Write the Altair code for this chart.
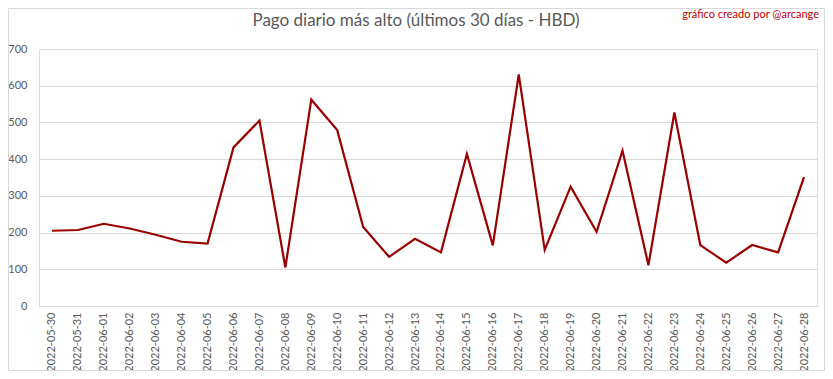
import altair as alt
import pandas as pd

dates = ["2022-05-30", "2022-05-31", "2022-06-01", "2022-06-02", "2022-06-03",
         "2022-06-04", "2022-06-05", "2022-06-06", "2022-06-07", "2022-06-08",
         "2022-06-09", "2022-06-10", "2022-06-11", "2022-06-12", "2022-06-13",
         "2022-06-14", "2022-06-15", "2022-06-16", "2022-06-17", "2022-06-18",
         "2022-06-19", "2022-06-20", "2022-06-21", "2022-06-22", "2022-06-23",
         "2022-06-24", "2022-06-25", "2022-06-26", "2022-06-27", "2022-06-28"]
values = [205, 207, 224, 211, 194, 175, 170, 432, 505, 105,
          562, 479, 215, 134, 183, 146, 414, 165, 631, 153,
          325, 202, 423, 111, 527, 166, 118, 166, 146, 351]
y_ticks = [0, 100, 200, 300, 400, 500, 600, 700]
title_text = "Pago diario más alto (últimos 30 días - HBD)"
credit_text = "gráfico creado por @arcange"

df = pd.DataFrame({"fecha": dates, "valor": values})

FONT = "Lato"
GRAY = "#595959"

line = alt.Chart(df).mark_line(color="#990000", strokeWidth=2.2).encode(
    x=alt.X("fecha:O", sort=dates, title=None,
            scale=alt.Scale(type="point", padding=0.5),
            axis=alt.Axis(labelAngle=-90, ticks=False, domainColor="#d9d9d9",
                          labelColor=GRAY, labelFontSize=11, labelFont=FONT,
                          labelPadding=6, grid=False)),
    y=alt.Y("valor:Q", title=None,
            scale=alt.Scale(domain=[0, 700], nice=False),
            axis=alt.Axis(values=y_ticks, ticks=False, domain=False,
                          gridColor="#d9d9d9", labelColor=GRAY,
                          labelFontSize=11, labelFont=FONT, labelPadding=12)),
)

credit = alt.Chart(pd.DataFrame({"t": [credit_text]})).mark_text(
    color="#c00000", font=FONT, fontSize=11, align="right", baseline="middle"
).encode(text="t:N", x=alt.value(780), y=alt.value(-34))

title = alt.Chart(pd.DataFrame({"t": [title_text]})).mark_text(
    color=GRAY, font=FONT, fontSize=17, align="center", baseline="middle"
).encode(text="t:N", x=alt.value(377), y=alt.value(-28))

one = pd.DataFrame({"t": [0]})
L, R, T, B = -30.5, 785.5, -40.5, 321.5
def rule(**enc):
    return alt.Chart(one).mark_rule(color="#d9d9d9", strokeWidth=1).encode(**enc)

borders = [
    rule(x=alt.value(L), x2=alt.value(R), y=alt.value(T)),
    rule(x=alt.value(L), x2=alt.value(R), y=alt.value(B)),
    rule(x=alt.value(L), y=alt.value(T), y2=alt.value(B)),
    rule(x=alt.value(R), y=alt.value(T), y2=alt.value(B)),
]

chart = alt.layer(line, title, credit, *borders).properties(
    width=778, height=257,
    padding={"left": 31, "top": 41, "right": 8, "bottom": 65},
    autosize=alt.AutoSizeParams(type="none"),
).configure_view(strokeWidth=0, stroke="transparent").configure(background="white")

chart.save("out.html", embed_options={"renderer": "svg", "actions": False})
